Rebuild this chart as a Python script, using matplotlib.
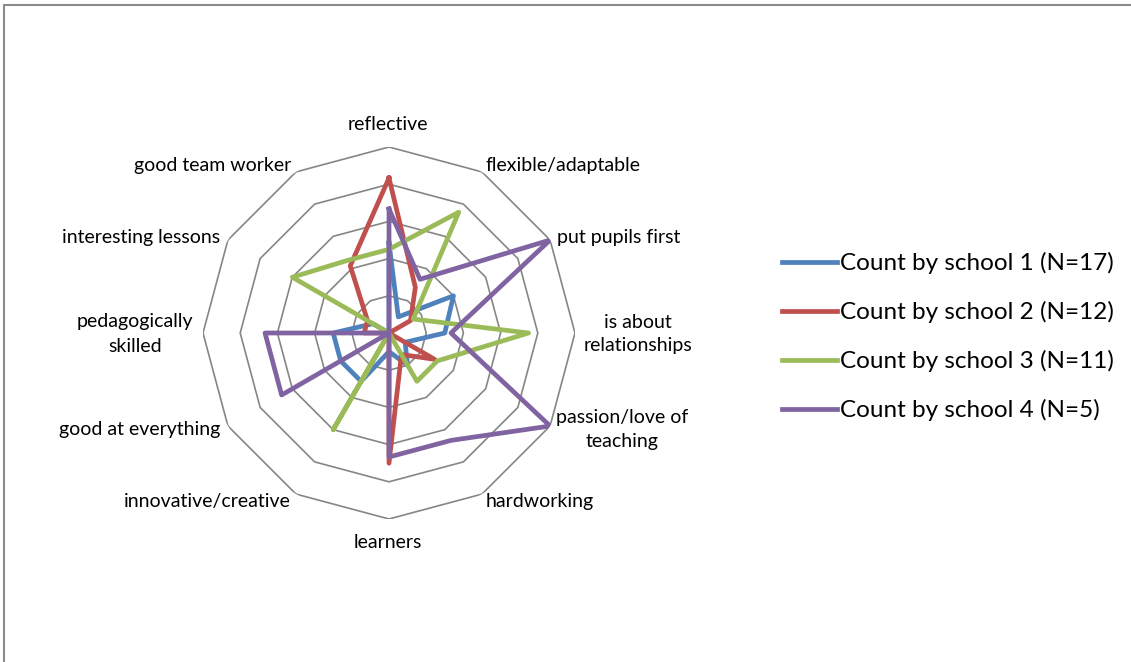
import numpy as np
import matplotlib
matplotlib.use('Agg')
from matplotlib import pyplot as plt
from matplotlib.patches import Rectangle

plt.rcParams['font.family'] = ['Lato', 'DejaVu Sans']

categories = ['reflective', 'flexible/adaptable', 'put pupils first',
              'is about\nrelationships', 'passion/love of\nteaching', 'hardworking',
              'learners', 'innovative/creative', 'good at everything',
              'pedagogically\nskilled', 'interesting lessons', 'good team worker']

school1 = [0.29, 0.06, 0.24, 0.18, 0.06, 0.12, 0.06, 0.18, 0.18, 0.18, 0.06, 0.0]
school2 = [0.50, 0.17, 0.08, 0.0, 0.17, 0.08, 0.42, 0.0, 0.0, 0.08, 0.08, 0.25]
school3 = [0.27, 0.45, 0.09, 0.45, 0.18, 0.18, 0.0, 0.36, 0.0, 0.0, 0.36, 0.27]
school4 = [0.4, 0.2, 0.6, 0.2, 0.6, 0.4, 0.4, 0.0, 0.4, 0.4, 0.0, 0.0]

series_names = ['Count by school 1 (N=17)', 'Count by school 2 (N=12)',
                'Count by school 3 (N=11)', 'Count by school 4 (N=5)']
colors = ['#4F81BD', '#C0504D', '#9BBB59', '#8064A2']
rings = [0.12, 0.24, 0.36, 0.48, 0.6]

W, H = 1131, 662
fig = plt.figure(figsize=(W / 100, H / 100), dpi=100)

# chart area border (cut off at right and bottom like the screenshot)
fig.add_artist(Rectangle((4 / W, -0.1), 1.2, 1 - 5 / H + 0.1, transform=fig.transFigure,
                         fill=False, edgecolor='#8c8c8c', linewidth=1.5))

cx, cy, rad = 389, 333, 186
ax = fig.add_axes([(cx - rad) / W, (H - cy - rad) / H, 2 * rad / W, 2 * rad / H], polar=True)
ax.set_theta_zero_location('N')
ax.set_theta_direction(-1)

n = len(categories)
theta = np.arange(n) * 2 * np.pi / n
theta_closed = np.append(theta, theta[0])

for r in rings:
    ax.plot(theta_closed, [r] * (n + 1), color='#868686', linewidth=1.2, zorder=1)

for vals, name, col in zip([school1, school2, school3, school4], series_names, colors):
    v = np.append(vals, vals[0])
    ax.plot(theta_closed, v, color=col, linewidth=3.4, label=name, zorder=2)

ax.set_ylim(0, rings[-1])
ax.set_xticks([])
ax.set_yticks([])
ax.grid(False)
ax.spines['polar'].set_visible(False)
ax.patch.set_visible(False)

# category labels, placed as in the original
label_pos = [
    (388, 125, 'center'), (486, 165, 'left'), (557, 237, 'left'),
    (638, 334, 'center'), (622, 430, 'center'), (486, 502, 'left'),
    (388, 542, 'center'), (291, 502, 'right'), (220, 430, 'right'),
    (135, 334, 'center'), (220, 237, 'right'), (291, 165, 'right'),
]
for text, (x, y, ha) in zip(categories, label_pos):
    fig.text(x / W, 1 - y / H, text, ha=ha, va='center', fontsize=14,
             multialignment='center', linespacing=1.5, color='black')

fig.legend(loc='upper left', bbox_to_anchor=(782 / W, 1 - 252 / H), frameon=False,
           fontsize=17.5, handlelength=2.25, handletextpad=0.15, labelspacing=1.11,
           borderpad=0, borderaxespad=0)

fig.savefig('out.png', dpi=100)
